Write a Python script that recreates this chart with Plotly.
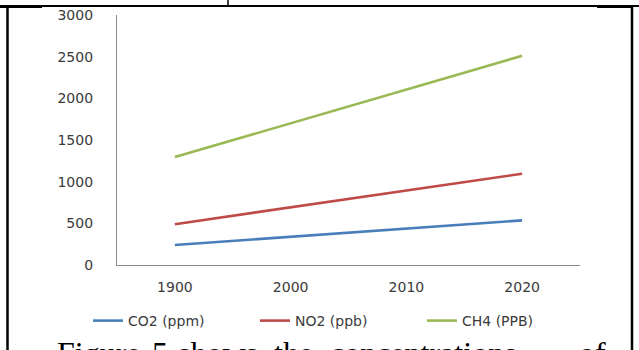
import plotly.graph_objects as go

W, H = 639, 350

years = ["1900", "2000", "2010", "2020"]
co2 = [240, 340, 435, 535]
no2 = [490, 690, 895, 1095]
ch4 = [1295, 1700, 2105, 2510]
series_names = ["CO2 (ppm)", "NO2 (ppb)", "CH4 (PPB)"]
series_colors = ["#4A7EBB", "#BE4B48", "#98B954"]
y_ticks = [0, 500, 1000, 1500, 2000, 2500, 3000]
caption_words = ["Figure", "5", "shows", "the", "concentrations", "of"]
caption_x = [55, 150, 176, 272, 328, 577]

fig = go.Figure()
for name, vals, col in zip(series_names, [co2, no2, ch4], series_colors):
    fig.add_trace(go.Scatter(x=years, y=vals, mode="lines", name=name,
                             line=dict(color=col, width=2.6)))

def px_x(p):
    return p / W

def px_y(p):
    return 1 - p / H

tickfont = dict(family="DejaVu Sans", size=14, color="#3a3a3a")

fig.update_layout(
    width=W, height=H,
    margin=dict(l=0, r=0, t=0, b=0, autoexpand=False),
    paper_bgcolor="white", plot_bgcolor="white",
    showlegend=True,
    legend=dict(orientation="h", x=px_x(88), xanchor="left", y=px_y(321), yanchor="middle",
                font=dict(family="DejaVu Sans", size=14, color="#3a3a3a"),
                entrywidth=122, bgcolor="rgba(0,0,0,0)"),
    xaxis=dict(type="category", domain=[px_x(117), px_x(580)], range=[-0.5, 3.5],
               automargin=False,
               showline=True, linecolor="#8a8a8a", linewidth=1.2, showgrid=False,
               zeroline=False, ticks="", tickfont=tickfont, ticklabelstandoff=9),
    yaxis=dict(domain=[px_y(265), px_y(15)], range=[0, 3000], tickvals=y_ticks,
               automargin=False,
               showline=True, linecolor="#8a8a8a", linewidth=1.2, showgrid=False,
               zeroline=False, ticks="", tickfont=tickfont, ticklabelstandoff=20),
)

shapes = []
line_blk = dict(color="black", width=2.5)
# table borders of the scanned page
shapes.append(dict(type="line", xref="paper", yref="paper", x0=0, x1=1, y0=px_y(6), y1=px_y(6), line=dict(color="black", width=2)))
shapes.append(dict(type="line", xref="paper", yref="paper", x0=0, x1=px_x(42), y0=px_y(6.5), y1=px_y(6.5), line=dict(color="black", width=3)))
shapes.append(dict(type="line", xref="paper", yref="paper", x0=px_x(597), x1=px_x(633), y0=px_y(6.5), y1=px_y(6.5), line=dict(color="black", width=3)))
shapes.append(dict(type="line", xref="paper", yref="paper", x0=px_x(7.5), x1=px_x(7.5), y0=px_y(5), y1=0, line=line_blk))
shapes.append(dict(type="line", xref="paper", yref="paper", x0=px_x(632), x1=px_x(632), y0=px_y(5), y1=0, line=line_blk))
shapes.append(dict(type="line", xref="paper", yref="paper", x0=px_x(228), x1=px_x(228), y0=1, y1=px_y(6), line=dict(color="black", width=1.5)))
fig.update_layout(shapes=shapes)

for word, xp in zip(caption_words, caption_x):
    fig.add_annotation(text=word, xref="paper", yref="paper", x=px_x(xp), xanchor="left",
                       y=px_y(333), yanchor="top", showarrow=False,
                       font=dict(family="Liberation Serif", size=32, color="black"))

fig.write_html("out.html")
